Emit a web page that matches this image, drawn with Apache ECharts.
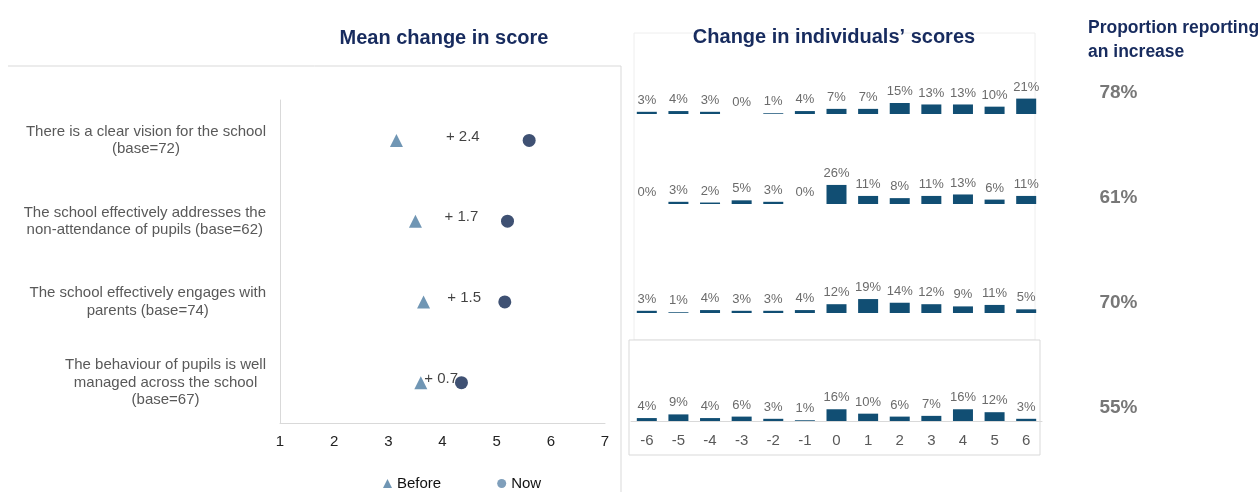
<!DOCTYPE html>
<html>
<head>
<meta charset="utf-8">
<script src="https://cdn.jsdelivr.net/npm/echarts@6/dist/echarts.min.js"></script>
<style>
  html, body { margin: 0; padding: 0; background: #fff; }
  #chart { width: 1258px; height: 492px; }
</style>
</head>
<body>
<div id="chart"></div>
<script>
// statements on the dot plot
const statements = [
  'There is a clear vision for the school\n(base=72)',
  'The school effectively addresses the\nnon-attendance of pupils (base=62)',
  'The school effectively engages with\nparents (base=74)',
  'The behaviour of pupils is well\nmanaged across the school\n(base=67)'
]
const before = [3.15, 3.5, 3.65, 3.6]
const now = [5.6, 5.2, 5.15, 4.35]
const meanChange = ['+ 2.4', '+ 1.7', '+ 1.5', '+ 0.7']

// change in individuals' scores (%)
const changes = ['-6', '-5', '-4', '-3', '-2', '-1', '0', '1', '2', '3', '4', '5', '6']
const rowVision = [3, 4, 3, 0, 1, 4, 7, 7, 15, 13, 13, 10, 21]
const rowAttendance = [0, 3, 2, 5, 3, 0, 26, 11, 8, 11, 13, 6, 11]
const rowParents = [3, 1, 4, 3, 3, 4, 12, 19, 14, 12, 9, 11, 5]
const rowBehaviour = [4, 9, 4, 6, 3, 1, 16, 10, 6, 7, 16, 12, 3]
const increase = [78, 61, 70, 55]

const navy = '#172b5e'
const grey = '#595959'
const barColor = '#114e73'
const font = '"Liberation Sans", Arial, sans-serif'

const barRows = [rowVision, rowAttendance, rowParents, rowBehaviour]
const baselines = [114, 204, 313, 421]

let grids = [{ left: 280, width: 325, top: 100, height: 323 }]
let xAxes = [{
  gridIndex: 0, type: 'value', min: 1, max: 7, interval: 1,
  axisLine: { show: true, lineStyle: { color: '#d9d9d9' } },
  axisTick: { show: false }, splitLine: { show: false },
  axisLabel: { color: '#222', fontSize: 15, fontFamily: font, margin: 11 }
}]
let yAxes = [{
  gridIndex: 0, type: 'category', inverse: true, data: statements,
  axisLine: { show: true, lineStyle: { color: '#d9d9d9' } },
  axisTick: { show: false },
  axisLabel: {
    color: grey, fontSize: 15, fontFamily: font, margin: 14, lineHeight: 17.5,
    formatter: v => v.split('\n').map(l => '{c|' + l + '}').join('\n'),
    rich: { c: { align: 'center', color: grey, fontSize: 15, fontFamily: font, lineHeight: 17.5 } }
  }
}]
let series = [
  {
    name: 'Before', type: 'scatter', xAxisIndex: 0, yAxisIndex: 0,
    symbol: 'triangle', symbolSize: 13,
    itemStyle: { color: '#7096b4', opacity: 1 },
    data: before
  },
  {
    name: 'Now', type: 'scatter', xAxisIndex: 0, yAxisIndex: 0,
    symbol: 'circle', symbolSize: 13,
    itemStyle: { color: '#3f5173', opacity: 1 },
    data: now
  },
  {
    type: 'scatter', xAxisIndex: 0, yAxisIndex: 0, symbolSize: 0, silent: true,
    data: before.map((b, i) => [(b + now[i]) / 2, i]),
    label: {
      show: true, position: 'inside', offset: [0, -4], color: '#111', fontSize: 15, fontFamily: font,
      formatter: p => meanChange[p.dataIndex]
    }
  }
]

barRows.forEach((row, i) => {
  const g = i + 1
  grids.push({ left: 631, width: 411, top: baselines[i] - 22, height: 22 })
  const last = i === barRows.length - 1
  xAxes.push({
    gridIndex: g, type: 'category', data: changes,
    axisLine: { show: last, lineStyle: { color: '#d9d9d9' } },
    axisTick: { show: false },
    axisLabel: { show: last, color: grey, fontSize: 15, fontFamily: font, margin: 12 }
  })
  yAxes.push({ gridIndex: g, type: 'value', min: 0, max: 30, show: false, splitLine: { show: false } })
  series.push({
    type: 'bar', xAxisIndex: g, yAxisIndex: g, barWidth: 20,
    itemStyle: { color: barColor },
    label: { show: true, position: 'top', distance: 5, color: '#6b6b6b', fontSize: 13, fontFamily: font, formatter: '{c}%' },
    data: row
  })
})

// proportion column
grids.push({ left: 1080, width: 80, top: 40, height: 420 })
xAxes.push({ gridIndex: 5, type: 'value', min: 0, max: 1, show: false })
yAxes.push({ gridIndex: 5, type: 'category', inverse: true, show: false, data: ['a', 'b', 'c', 'd'] })
series.push({
  type: 'scatter', xAxisIndex: 5, yAxisIndex: 5, symbolSize: 0, silent: true,
  data: increase.map((v, i) => [0.48, i, v]),
  label: {
    show: true, position: 'inside', color: '#555', fontSize: 19, fontWeight: 'bold', fontFamily: font,
    formatter: p => p.value[2] + '%'
  }
})

const chart = echarts.init(document.getElementById('chart'))
chart.setOption({
  animation: false,
  backgroundColor: '#fff',
  title: [
    { text: 'Mean change in score', left: 439, top: 23, textAlign: 'center',
      textStyle: { color: navy, fontSize: 20, fontWeight: 'bold', fontFamily: font } },
    { text: 'Change in individuals\u2019 scores', left: 829, top: 22, textAlign: 'center',
      textStyle: { color: navy, fontSize: 20, fontWeight: 'bold', fontFamily: font } },
    { text: 'Proportion reporting\nan increase', left: 1083, top: 11,
      textStyle: { color: navy, fontSize: 17.5, fontWeight: 'bold', fontFamily: font, lineHeight: 24 } }
  ],
  legend: {
    left: 378, top: 471, itemGap: 56, itemWidth: 9, itemHeight: 9,
    textStyle: { color: '#111', fontSize: 15, fontFamily: font },
    data: [
      { name: 'Before', icon: 'triangle', itemStyle: { color: '#7096b4' } },
      { name: 'Now', icon: 'circle', itemStyle: { color: '#7f9fbb' } }
    ]
  },
  graphic: [
    { type: 'line', shape: { x1: 8, y1: 66, x2: 621, y2: 66 }, style: { stroke: '#d9d9d9', lineWidth: 1 }, z: -1 },
    { type: 'line', shape: { x1: 621, y1: 66, x2: 621, y2: 492 }, style: { stroke: '#d9d9d9', lineWidth: 1 }, z: -1 },
    { type: 'rect', shape: { x: 634, y: 33, width: 401, height: 307 }, style: { fill: 'none', stroke: '#eeeeee', lineWidth: 1 }, z: -2 },
    { type: 'rect', shape: { x: 629, y: 340, width: 411, height: 115 }, style: { fill: '#fff', stroke: '#d9d9d9', lineWidth: 1 }, z: -1 }
  ],
  grid: grids,
  xAxis: xAxes,
  yAxis: yAxes,
  series: series
})
</script>
</body>
</html>
